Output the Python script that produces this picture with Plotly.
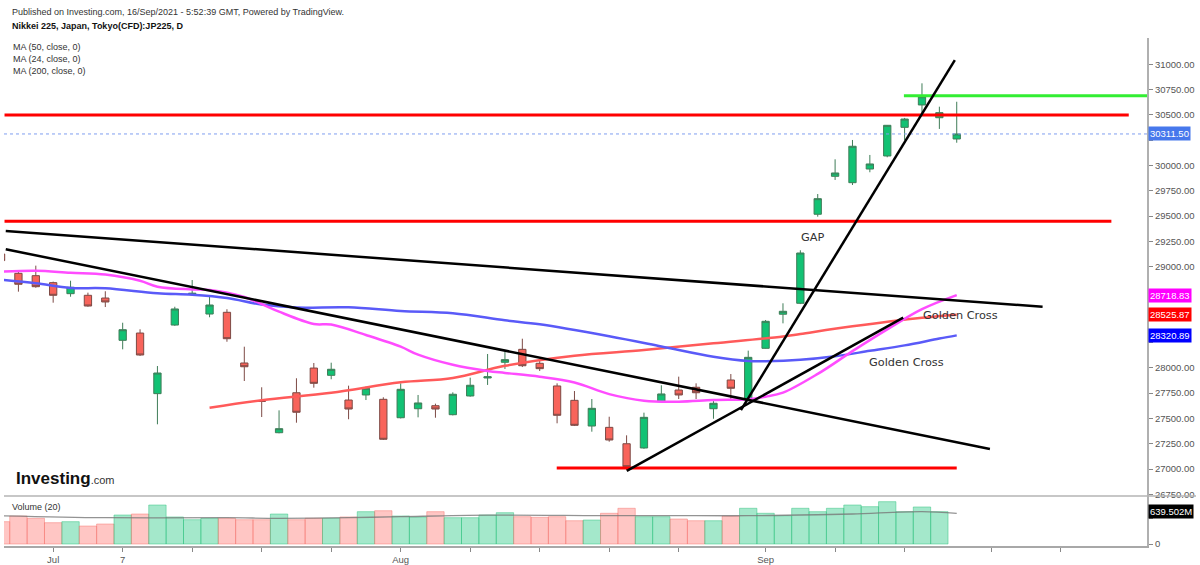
import plotly.graph_objects as go

# ---------------- data ----------------
idx = list(range(-1, 55))
opens = [29125, 28934, 28911, 28842, 28733, 28717, 28690, 28272, 28344, 27745,
         28423, 28725, 28532, 28549, 28048, 27675, 27359, 27754, 27998, 27926,
         27682, 27732, 27689, 27507, 27596, 27626, 27537, 27722, 27900, 28055,
         28183, 28045, 27821, 27679, 27425, 27412, 27250, 27208, 27666, 27781,
         27808, 27596, 27880, 27692, 28193, 28530, 28638, 29518, 29893, 29830,
         29965, 30094, 30377, 30598, 30472, 30262]
highs = [29150, 28960, 29010, 28852, 28861, 28743, 28757, 28446, 28381, 28018,
         28604, 28868, 28710, 28579, 28209, 27808, 27580, 27897, 28048, 28051,
         27824, 27814, 27709, 27847, 27732, 27646, 27758, 27903, 28137, 28160,
         28288, 28068, 27847, 27771, 27692, 27517, 27333, 27557, 27828, 27913,
         27847, 27685, 27939, 28170, 28473, 28638, 29162, 29718, 30061, 30252,
         30104, 30400, 30470, 30812, 30581, 30630]
lows = [29040, 28753, 28792, 28644, 28703, 28604, 28601, 28183, 28118, 27442,
        28415, 28720, 28500, 28258, 27870, 27514, 27353, 27458, 27804, 27887,
        27492, 27682, 27287, 27500, 27511, 27507, 27530, 27715, 27831, 27989,
        28008, 27969, 27452, 27425, 27369, 27270, 26990, 27200, 27660, 27692,
        27692, 27497, 27682, 27682, 28190, 28440, 28630, 29494, 29857, 29807,
        29933, 30081, 30252, 30516, 30361, 30225]
closes = [29060, 28826, 28802, 28717, 28796, 28611, 28651, 28377, 28127, 27949,
          28582, 28738, 28621, 28288, 28011, 27668, 27399, 27561, 27847, 27986,
          27593, 27798, 27294, 27788, 27653, 27593, 27739, 27828, 27912, 28081,
          28021, 27992, 27531, 27432, 27600, 27287, 27023, 27511, 27742, 27732,
          27754, 27650, 27798, 28104, 28460, 28559, 29135, 29672, 29926, 30190,
          30015, 30397, 30459, 30680, 30522, 30311.5]
# volume in millions (last day not shown)
volumes_m = [442, 554, 509, 422, 442, 356, 396, 574, 594, 772,
             535, 481, 509, 509, 481, 481, 594, 481, 509, 509,
             535, 640, 659, 554, 535, 640, 521, 521, 574, 620,
             541, 529, 541, 461, 475, 608, 707, 541, 541, 495,
             461, 461, 554, 707, 608, 560, 707, 640, 707, 772,
             739, 838, 640, 733, 640, None]
vol_ma_idx = [-1, 5, 12, 15, 19, 22, 27, 34, 39, 42, 45, 48, 52, 54]
vol_ma_m = [560, 521, 521, 509, 521, 541, 570, 560, 560, 560, 574, 594, 640, 608]

ma50_idx = [-1, 1, 3, 5, 8, 10, 12, 14, 16, 19, 22, 25, 28, 30, 34, 37, 40, 42, 43, 45, 47, 49, 51, 53, 54]
ma50_val = [28870, 28836, 28790, 28786, 28737, 28722, 28690, 28625, 28596, 28598, 28562, 28540,
            28470, 28430, 28312, 28212, 28110, 28068, 28066, 28080, 28115, 28168, 28222, 28290, 28320.89]
ma24_idx = [-1, 1, 3, 5, 7, 8, 10, 11, 13, 14, 15, 17, 18, 20, 22, 23, 25, 27, 28, 30, 32, 34, 36,
            38, 40, 42, 43, 44, 46, 48, 50, 52, 54]
ma24_val = [28950, 28960, 28940, 28922, 28860, 28802, 28775, 28770, 28700, 28630, 28555, 28434,
            28428, 28325, 28209, 28130, 28030, 27970, 27950, 27912, 27855, 27740, 27675, 27666,
            27682, 27690, 27715, 27755, 27940, 28165, 28380, 28580, 28718.83]
ma200_idx = [11, 14, 18, 22, 25, 28, 32, 36, 40, 44, 45, 48, 52, 54]
ma200_val = [27606, 27680, 27754, 27857, 27900, 28020, 28120, 28176, 28243, 28310, 28335, 28410,
             28495, 28525.87]

last_price = 30311.5
last_volume_label = "639.502M"

# drawn trend lines: (start index, start price, end index, end price)
black_lines = [(-0.73, 29353, 58.94, 28604),
               (-0.73, 29172, 55.91, 27198),
               (41.58, 27583, 53.89, 31042),
               (35.01, 26981, 50.92, 28496)]
red_levels = [(-0.8, 63.9, 30500), (-0.8, 62.9, 29450), (30.98, 54.0, 27010)]
green_levels = [(50.96, 64.95, 30690)]

price_ticks = [26750, 27000, 27250, 27500, 27750, 28000, 28250, 28500, 28750,
               29000, 29250, 29500, 29750, 30000, 30250, 30500, 30750, 31000]
hidden_price_ticks = [28250, 28500, 28750, 30250]   # covered by value boxes
x_tickvals = [2, 6, 10, 14, 18, 22, 26, 30, 34, 38, 43, 47, 51, 56, 60]
x_ticktext = ["Jul", "7", "", "", "", "Aug", "", "", "", "", "Sep", "", "", "", ""]

# ---------------- figure ----------------
W, H = 1200, 565
ML, MR, MT, MB = 4, 53, 38, 19
PW, PH = W - ML - MR, H - MT - MB
def px(x):
    return (x - ML) / PW
def py(y):
    return (H - MB - y) / PH
split = py(496)

fig = go.Figure()

# volume
vol_colors = ["rgba(38,200,130,0.42)" if c >= o else "rgba(255,120,115,0.42)" for o, c in zip(opens, closes)]
vol_lines = ["rgba(38,190,120,0.45)" if c >= o else "rgba(245,110,105,0.45)" for o, c in zip(opens, closes)]
fig.add_trace(go.Bar(x=idx, y=[None if v is None else v * 1e6 for v in volumes_m],
                     marker=dict(color=vol_colors, line=dict(color=vol_lines, width=1)),
                     width=1.0, xaxis="x", yaxis="y2", hoverinfo="skip"))
fig.add_trace(go.Scatter(x=vol_ma_idx, y=[v * 1e6 for v in vol_ma_m], mode="lines",
                         line=dict(color="rgba(120,120,120,0.8)", width=1.3, shape="spline"),
                         xaxis="x", yaxis="y2", hoverinfo="skip"))

# candles
fig.add_trace(go.Candlestick(
    x=idx, open=opens, high=highs, low=lows, close=closes,
    increasing=dict(fillcolor="#12c274", line=dict(color="#3f7d58", width=1)),
    decreasing=dict(fillcolor="#f8645b", line=dict(color="#7d4a45", width=1)),
    whiskerwidth=0, xaxis="x", yaxis="y", hoverinfo="skip"))

# moving averages
fig.add_trace(go.Scatter(x=ma200_idx, y=ma200_val, mode="lines",
                         line=dict(color="#ff5a5a", width=2.5, shape="spline"), hoverinfo="skip"))
fig.add_trace(go.Scatter(x=ma50_idx, y=ma50_val, mode="lines",
                         line=dict(color="#5a5af8", width=2.5, shape="spline"), hoverinfo="skip"))
fig.add_trace(go.Scatter(x=ma24_idx, y=ma24_val, mode="lines",
                         line=dict(color="#ff4cff", width=2.5, shape="spline"), hoverinfo="skip"))

# last price dotted line
fig.add_trace(go.Scatter(x=[-0.83, 64.95], y=[last_price, last_price], mode="lines",
                         line=dict(color="#7f9ff0", width=1, dash="dot"), hoverinfo="skip"))

# drawn levels and trend lines
for x0, x1, lvl in red_levels:
    fig.add_trace(go.Scatter(x=[x0, x1], y=[lvl, lvl], mode="lines",
                             line=dict(color="#ff0000", width=3), hoverinfo="skip"))
for x0, x1, lvl in green_levels:
    fig.add_trace(go.Scatter(x=[x0, x1], y=[lvl, lvl], mode="lines",
                             line=dict(color="#33ee33", width=3), hoverinfo="skip"))
for x0, y0, x1, y1 in black_lines:
    fig.add_trace(go.Scatter(x=[x0, x1], y=[y0, y1], mode="lines",
                             line=dict(color="#000000", width=2.5), hoverinfo="skip"))

annotations = []
hdr = dict(family="Liberation Sans, Arial", size=9, color="#333")
annotations.append(dict(xref="paper", yref="paper", x=px(10), y=py(12), xanchor="left", yanchor="middle",
                        text="Published on Investing.com, 16/Sep/2021 - 5:52:39 GMT, Powered by TradingView.",
                        showarrow=False, font=hdr))
annotations.append(dict(xref="paper", yref="paper", x=px(10), y=py(26), xanchor="left", yanchor="middle",
                        text="<b>Nikkei 225, Japan, Tokyo(CFD):JP225, D</b>", showarrow=False,
                        font=dict(family="Liberation Sans, Arial", size=9, color="#111")))
for yy, t in [(47, "MA (50, close, 0)"), (59, "MA (24, close, 0)"), (71, "MA (200, close, 0)")]:
    annotations.append(dict(xref="paper", yref="paper", x=px(11), y=py(yy), xanchor="left", yanchor="middle",
                            text=t, showarrow=False, font=hdr))
annotations.append(dict(xref="paper", yref="paper", x=px(10), y=py(507), xanchor="left", yanchor="middle",
                        text="Volume (20)", showarrow=False, font=hdr))
annotations.append(dict(xref="paper", yref="paper", x=px(14), y=py(478), xanchor="left", yanchor="middle",
                        text="<b>Investing</b><span style='font-size:11px;color:#333'>.com</span>",
                        showarrow=False, font=dict(family="Liberation Sans, Arial", size=17, color="#111")))

txt = dict(family="DejaVu Sans", size=11.3, color="#333")
annotations.append(dict(xref="x", yref="y", x=45.7, y=29286, text="GAP", showarrow=False, font=txt))
annotations.append(dict(xref="x", yref="y", x=54.2, y=28522, text="Golden Cross", showarrow=False, font=txt))
annotations.append(dict(xref="x", yref="y", x=51.1, y=28048, text="Golden Cross", showarrow=False, font=txt))

# right side value labels
for val, bg in [(last_price, "#4778ec"), (28718.83, "#ff00ff"), (28525.87, "#ff0000"), (28320.89, "#0000ff")]:
    annotations.append(dict(xref="paper", yref="y", x=1.0, xshift=1, y=val, xanchor="left", yanchor="middle",
                            text=f"{val:.2f}", showarrow=False, bgcolor=bg, borderpad=1,
                            font=dict(family="Liberation Sans, Arial", size=9.5, color="#fff")))
annotations.append(dict(xref="paper", yref="y2", x=1.0, xshift=1, y=639.502e6, xanchor="left", yanchor="middle",
                        text=last_volume_label, showarrow=False, bgcolor="#000", borderpad=1,
                        font=dict(family="Liberation Sans, Arial", size=9.5, color="#fff")))

shapes = [dict(type="line", xref="paper", yref="paper", x0=0, x1=px(1196), y0=split, y1=split,
               line=dict(color="#b5b5b5", width=1.5))]

price_ticktext = ["" if t in hidden_price_ticks else f"{t:.2f}" for t in price_ticks]

tickfont = dict(family="Liberation Sans, Arial", size=9.5, color="#555")
fig.update_layout(
    width=W, height=H, margin=dict(l=ML, r=MR, t=MT, b=MB, autoexpand=False),
    paper_bgcolor="#fff", plot_bgcolor="#fff", showlegend=False,
    boxgap=0.4, bargap=0, hovermode=False,
    annotations=annotations, shapes=shapes,
    xaxis=dict(range=[-0.83, 64.95], anchor="y2", showgrid=False, zeroline=False,
               tickvals=x_tickvals, ticktext=x_ticktext, ticks="outside", ticklen=4,
               tickcolor="#888", tickfont=tickfont, showline=True, linecolor="#a8a8a8", linewidth=2,
               rangeslider=dict(visible=False), fixedrange=True, automargin=False),
    yaxis=dict(domain=[split, 1], range=[26733.5, 31259.9], side="right", anchor="x",
               showgrid=False, zeroline=False, tickvals=price_ticks, ticktext=price_ticktext,
               ticks="outside", ticklen=4, tickcolor="#888", tickfont=tickfont,
               showline=True, linecolor="#b0b0b0", linewidth=2, automargin=False),
    yaxis2=dict(domain=[0, split], range=[-39.6e6, 950.4e6], side="right", anchor="x",
                showgrid=False, zeroline=False, tickvals=[0, 500e6], ticktext=["0", ""],
                ticks="outside", ticklen=4, tickcolor="#888", tickfont=tickfont,
                showline=True, linecolor="#b0b0b0", linewidth=2, automargin=False),
)

fig.write_html("out.html", config={"displayModeBar": False, "staticPlot": True},
               post_script="document.body.style.margin='0';document.body.style.overflow='hidden';")
